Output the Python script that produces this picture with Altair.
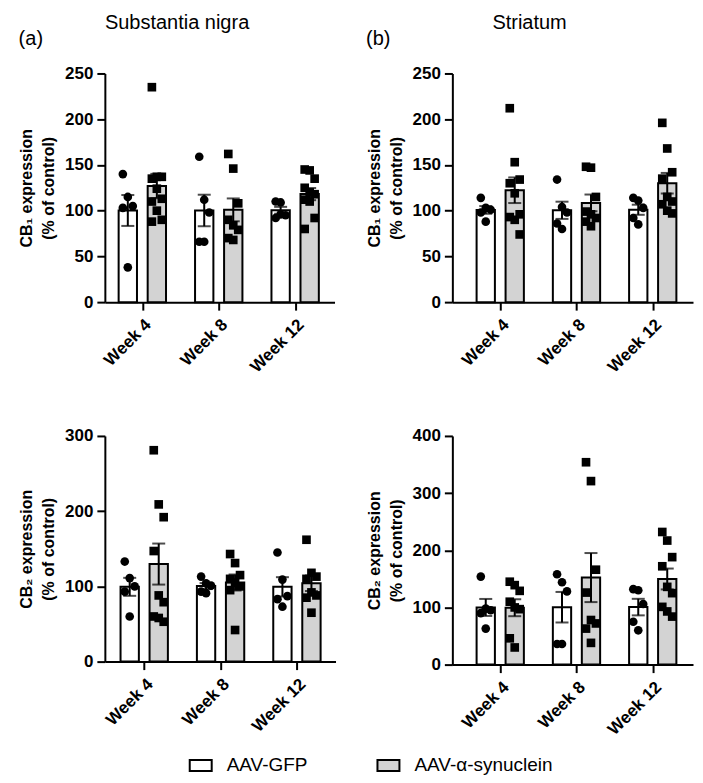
import json
import altair as alt
import pandas as pd

WEEKS = ["Week 4", "Week 8", "Week 12"]
GROUPS = ["AAV-GFP", "AAV-α-synuclein"]

# Substantia nigra, CB1
SN_CB1_GFP = [[140, 115, 105, 103, 38], [159, 112, 98, 66, 66], [110, 109, 95, 92, 96]]
SN_CB1_SYN = [[235, 137, 137, 135, 124, 113, 110, 100, 90, 88],
              [162, 146, 108, 90, 84, 79, 70, 68],
              [145, 144, 135, 125, 120, 118, 112, 110, 92, 80]]
# Striatum, CB1
ST_CB1_GFP = [[114, 103, 101, 98, 88], [134, 104, 98, 86, 80], [114, 111, 103, 92, 85]]
ST_CB1_SYN = [[212, 153, 134, 130, 119, 96, 93, 90, 74],
              [148, 147, 115, 99, 96, 92, 88, 83],
              [196, 168, 142, 135, 115, 110, 107, 100, 97]]
# Substantia nigra, CB2
SN_CB2_GFP = [[133, 111, 100, 93, 60], [113, 104, 101, 93, 91], [145, 109, 87, 83, 73]]
SN_CB2_SYN = [[281, 209, 192, 147, 88, 79, 60, 58, 53],
              [143, 131, 115, 110, 105, 100, 95, 42],
              [162, 118, 113, 110, 92, 88, 85, 65]]
# Striatum, CB2
ST_CB2_GFP = [[154, 98, 95, 90, 63], [158, 144, 128, 36, 36], [132, 130, 106, 75, 60]]
ST_CB2_SYN = [[145, 139, 129, 110, 100, 97, 46, 30],
              [354, 321, 166, 126, 78, 72, 63, 38],
              [232, 217, 188, 172, 136, 125, 101, 93, 84]]

FONT = "Liberation Sans"
GRAY = "#d3d3d3"


def panel(gfp, syn, ymax, ystep, width, height, xdom, ytitle, label=None):
    rows = []
    for wi, w in enumerate(WEEKS):
        for g, arr in ((GROUPS[0], gfp[wi]), (GROUPS[1], syn[wi])):
            for ri, v in enumerate(arr):
                rows.append(dict(wi=wi, week=w, group=g, rep=ri, value=v))
    df = pd.DataFrame(rows)

    base = alt.Chart(df).transform_calculate(
        center="datum.wi + (datum.group === 'AAV-GFP' ? -0.19 : 0.19)"
    )
    xscale = alt.Scale(domain=xdom, nice=False, zero=False)
    xaxis = alt.Axis(values=[0, 1, 2],
                     labelExpr=json.dumps(WEEKS) + "[datum.value]",
                     labelAngle=-45, labelAlign="right", labelBaseline="top",
                     title=None, grid=False)
    yscale = alt.Scale(domain=[0, ymax], nice=False)
    yaxis = alt.Axis(values=list(range(0, ymax + 1, ystep)), title=ytitle,
                     grid=False)

    bars = base.transform_calculate(
        xl="datum.center - 0.12", xr="datum.center + 0.12"
    ).mark_bar(stroke="black", strokeWidth=2).encode(
        x=alt.X("xl:Q", scale=xscale, axis=xaxis),
        x2="xr:Q",
        y=alt.Y("mean(value):Q", scale=yscale, axis=yaxis),
        fill=alt.Fill("group:N", scale=alt.Scale(domain=GROUPS, range=["white", GRAY]),
                      legend=alt.Legend(title=None, orient="none", direction="horizontal",
                                        legendX=84, legendY=681,
                                        symbolType="M-1,-0.5H1V0.5H-1Z")),
    )
    pbase = base.transform_calculate(
        px="datum.center + ((datum.rep % 3) - 1) * 0.065"
    )
    penc = dict(x=alt.X("px:Q", scale=xscale, axis=xaxis),
                y=alt.Y("value:Q", scale=yscale, axis=yaxis))
    circles = pbase.transform_filter(alt.datum.group == GROUPS[0]).mark_circle(
        color="black", opacity=1, size=75).encode(**penc)
    squares = pbase.transform_filter(alt.datum.group == GROUPS[1]).mark_square(
        color="black", opacity=1, size=75).encode(**penc)
    err = base.mark_errorbar(extent="stderr", orient="vertical", color="black",
                             thickness=2, ticks={"size": 13, "thickness": 2}).encode(
        x=alt.X("center:Q", scale=xscale, axis=xaxis),
        y=alt.Y("value:Q", scale=yscale, axis=yaxis),
    )
    props = dict(width=width, height=height)
    if label:
        props["title"] = alt.TitleParams(label, anchor="start", frame="bounds",
                                         fontSize=20, fontWeight="normal", font=FONT,
                                         offset=16)
    return alt.layer(bars, circles, squares, err).properties(**props)


T1 = ["CB₁ expression", "(% of control)"]
T2 = ["CB₂ expression", "(% of control)"]

tl = panel(SN_CB1_GFP, SN_CB1_SYN, 250, 50, 230, 229, [-0.425, 2.45], T1, "(a)")
tr = panel(ST_CB1_GFP, ST_CB1_SYN, 250, 50, 241, 229, [-0.5625, 2.4625], T1, "(b)")
bl = panel(SN_CB2_GFP, SN_CB2_SYN, 300, 100, 231, 226, [-0.45, 2.44], T2)
br = panel(ST_CB2_GFP, ST_CB2_SYN, 400, 100, 241, 229, [-0.5625, 2.4625], T2)

left = alt.vconcat(tl, bl, spacing=51,
                   title=alt.TitleParams("Substantia nigra", fontSize=20, fontWeight="normal",
                                         font=FONT, anchor="middle", offset=-4))
right = alt.vconcat(tr, br, spacing=51,
                    title=alt.TitleParams("Striatum", fontSize=20, fontWeight="normal",
                                          font=FONT, anchor="middle", offset=-4))

chart = alt.hconcat(left, right, spacing=30).properties(
    padding={"left": 10, "top": 4, "right": 2, "bottom": 2}
).configure_view(stroke=None).configure_axis(
    domainColor="black", domainWidth=2, tickColor="black", tickWidth=2, tickSize=8,
    labelFont=FONT, labelFontSize=17, labelFontWeight="bold", labelColor="black",
    titleFont=FONT, titleFontSize=16, titleFontWeight="bold", titleColor="black",
    titlePadding=8, labelPadding=4, titleLineHeight=22,
).configure_axisX(labelPadding=6).configure_legend(
    labelFont=FONT, labelFontSize=19,
    labelColor="black", symbolType="M-1,-0.5H1V0.5H-1Z", symbolSize=484,
    symbolStrokeColor="black", symbolStrokeWidth=2, columnPadding=66,
    labelOffset=14, labelLimit=300,
)

chart.save("out.html", embed_options={"renderer": "svg", "actions": False})
